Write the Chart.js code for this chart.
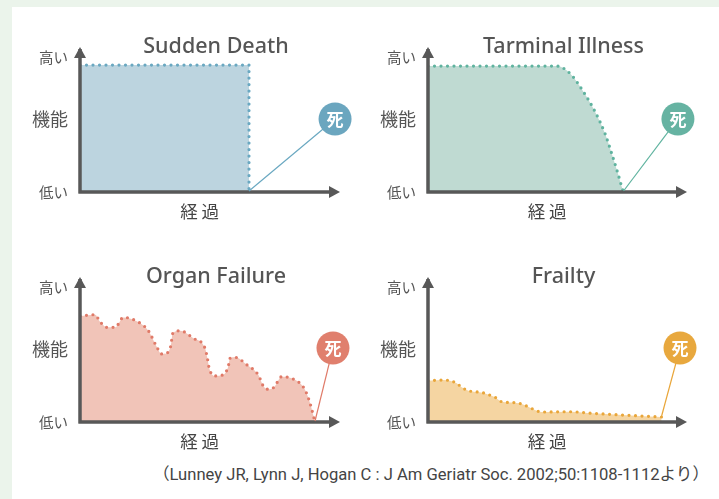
<!DOCTYPE html>
<html>
<head>
<meta charset="utf-8">
<script src="https://cdn.jsdelivr.net/npm/chart.js@4/dist/chart.umd.min.js"></script>
<style>
  body { margin: 0; width: 719px; height: 499px; overflow: hidden; position: relative; background: #ebf4eb; }
  #sheet { position: absolute; left: 12px; top: 7px; right: 0; bottom: 0; background: #fff; }
  canvas { position: absolute; }
  #source { position: absolute; right: 10px; top: 461px; font: 16.6px Roboto, "Noto Sans CJK JP", sans-serif; color: #444; white-space: nowrap; }
</style>
</head>
<body>
<div id="sheet"></div>
<canvas id="c0" width="360" height="230" style="left:0;top:0"></canvas>
<canvas id="c1" width="359" height="230" style="left:360px;top:0"></canvas>
<canvas id="c2" width="360" height="230" style="left:0;top:230px"></canvas>
<canvas id="c3" width="359" height="230" style="left:360px;top:230px"></canvas>
<div id="source">（Lunney JR, Lynn J, Hogan C : J Am Geriatr Soc. 2002;50:1108-1112より）</div>
<script>
// trajectories (x = time 0-100, y = function 0-100)
const titles = ['Sudden Death', 'Tarminal Illness', 'Organ Failure', 'Frailty'];
const yTickValues = [0, 54, 100];
const yTickLabels = ['低い', '機能', '高い'];
const xAxisLabel = '経 過';
const deathLabel = '死';

const suddenX = [0, 65, 65];
const suddenY = [94, 94, 0];

const terminalX = [0, 30, 49.7, 54.8, 60.0, 64.5, 68.3, 70.9, 73.5, 74.8, 75.5];
const terminalY = [93.3, 93.3, 93.3, 87.9, 74.3, 59.5, 43.5, 28.7, 12.6, 3.9, 0];

const organX = [0, 5.8, 7.7, 10.5, 13.5, 16.7, 22.2, 26.3, 29.5, 31.4, 33.3, 34.9, 35.7, 38.5, 43.6, 48.1, 49.0, 49.7, 51.9, 54.9, 57.0, 57.7, 59.6, 64.3, 68.6, 70.5, 72.4, 74.6, 77.6, 80.1, 85.3, 86.9, 88.5, 90.4];
const organY = [78.5, 79.5, 74.3, 70.1, 70.1, 77.5, 74.3, 67.6, 55.8, 50.4, 50.9, 56.3, 65.7, 67.6, 62.0, 54.6, 47.2, 39.8, 34.1, 34.8, 41.0, 47.2, 47.9, 42.2, 34.8, 26.7, 24.2, 25.7, 33.6, 33.1, 27.4, 22.4, 13.8, 0];

const frailX = [0, 5.9, 8.5, 11.1, 13.0, 15.6, 21.1, 23.7, 25.9, 28.5, 33.6, 36.2, 38.7, 41.3, 43.9, 54.8, 63.8, 76.7, 90.2];
const frailY = [30.6, 31.1, 30.6, 28.7, 25.7, 23.2, 21.7, 20.0, 18.3, 15.0, 14.3, 13.3, 11.3, 8.9, 7.4, 7.6, 6.4, 5.0, 3.7];

// where the 死 badge sits, in data units
const deathX = [98.1, 96.5, 97.3, 97.3];
const deathY = [54.1, 54.1, 54.8, 54.8];

const lineColors = ['#6aa8c1', '#5fb39f', '#e07a68', '#e9a63a'];
const fillColors = ['#bcd4df', '#bfdad2', '#f1c4b8', '#f5d5a2'];
const badgeColors = ['#6ba6bf', '#66b3a2', '#e07f6d', '#e8a83e'];

const series = [[suddenX, suddenY], [terminalX, terminalY], [organX, organY], [frailX, frailY]];

const JP = '"Noto Sans CJK JP", "Noto Sans", sans-serif';
const AXIS = '#585858';

const decor = {
  id: 'decor',
  afterDraw(chart) {
    const i = chart.options.plugins.decor.index;
    const { ctx, chartArea: a, scales } = chart;
    ctx.save();

    // axes with arrow heads
    ctx.strokeStyle = AXIS;
    ctx.fillStyle = AXIS;
    ctx.lineWidth = 3.5;
    ctx.beginPath();
    ctx.moveTo(a.left, a.bottom + 1.5);
    ctx.lineTo(a.left, a.top - 8);
    ctx.moveTo(a.left - 1.5, a.bottom);
    ctx.lineTo(a.right - 8, a.bottom);
    ctx.stroke();
    ctx.beginPath();
    ctx.moveTo(a.left, a.top - 10);
    ctx.lineTo(a.left - 6, a.top + 1);
    ctx.lineTo(a.left + 6, a.top + 1);
    ctx.closePath();
    ctx.fill();
    ctx.beginPath();
    ctx.moveTo(a.right, a.bottom);
    ctx.lineTo(a.right - 11, a.bottom - 6);
    ctx.lineTo(a.right - 11, a.bottom + 6);
    ctx.closePath();
    ctx.fill();

    // title
    ctx.fillStyle = '#555';
    ctx.textAlign = 'center';
    ctx.textBaseline = 'middle';
    ctx.font = '500 21.5px "Noto Sans", sans-serif';
    ctx.fillText(titles[i], (a.left + a.right) / 2 + 6, 47);

    // x axis label
    ctx.font = '17.5px ' + JP;
    ctx.fillStyle = '#444';
    ctx.fillText(xAxisLabel, a.left + (a.right - a.left) * 0.46, a.bottom + 19);

    // line from the end of the trajectory to the badge
    const pts = chart.getDatasetMeta(0).data;
    const last = pts[pts.length - 1];
    const bx = scales.x.getPixelForValue(deathX[i]);
    const by = scales.y.getPixelForValue(deathY[i]);
    ctx.strokeStyle = lineColors[i];
    ctx.lineWidth = 1.2;
    ctx.beginPath();
    ctx.moveTo(last.x, last.y - 1);
    ctx.lineTo(bx, by);
    ctx.stroke();

    ctx.fillStyle = badgeColors[i];
    ctx.beginPath();
    ctx.arc(bx, by, 16.5, 0, Math.PI * 2);
    ctx.fill();
    ctx.fillStyle = '#fff';
    ctx.font = 'bold 17px ' + JP;
    ctx.fillText(deathLabel, bx, by + 1);

    ctx.restore();
  }
};

function makeChart(i) {
  const [xs, ys] = series[i];
  const left = i % 2 === 0;
  new Chart(document.getElementById('c' + i), {
    type: 'line',
    data: {
      datasets: [{
        data: xs.map((x, k) => ({ x, y: ys[k] })),
        borderColor: lineColors[i],
        backgroundColor: fillColors[i],
        fill: 'origin',
        borderWidth: 3.2,
        borderDash: [0, 6.5],
        borderCapStyle: 'round',
        pointRadius: 0,
        tension: i === 0 ? 0 : 0.4,
        cubicInterpolationMode: i === 0 ? 'default' : 'monotone'
      }]
    },
    options: {
      responsive: false,
      animation: false,
      layout: { padding: { left: left ? 26 : 14, right: left ? 20 : 32, top: 57, bottom: 38 } },
      scales: {
        x: { type: 'linear', min: 0, max: 100, display: false },
        y: {
          min: 0, max: 100,
          afterFit: s => { s.width = 54; },
          afterBuildTicks: s => { s.ticks = yTickValues.map(v => ({ value: v })); },
          grid: { display: false, drawTicks: false },
          border: { display: false },
          ticks: {
            padding: 12,
            color: '#555',
            callback: (v, k) => yTickLabels[k],
            font: c => ({ family: JP, size: c.index === 1 ? 18 : 14.5 })
          }
        }
      },
      plugins: {
        legend: { display: false },
        tooltip: { enabled: false },
        decor: { index: i }
      }
    },
    plugins: [decor]
  });
}

[0, 1, 2, 3].forEach(makeChart);
</script>
</body>
</html>
